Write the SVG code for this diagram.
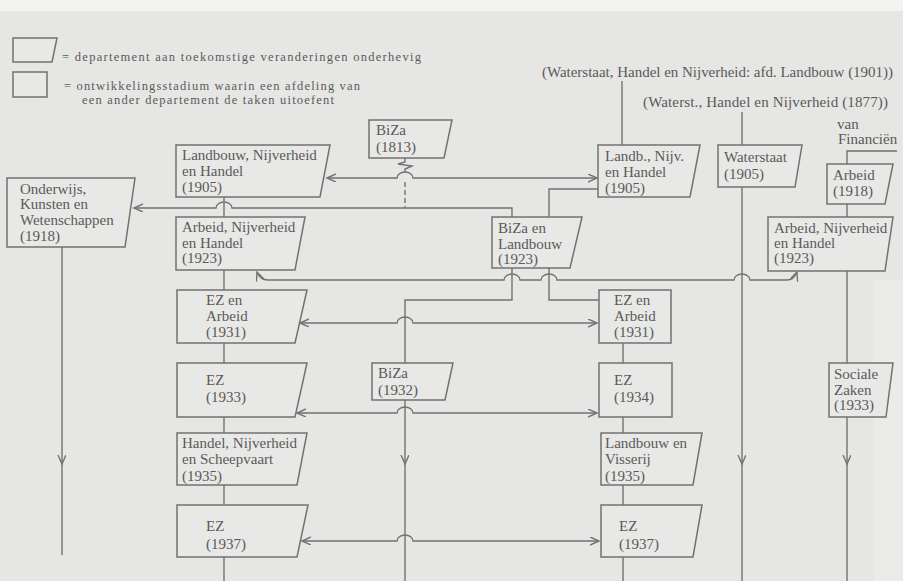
<svg xmlns="http://www.w3.org/2000/svg" width="903" height="581" viewBox="0 0 903 581">
<style>
.bg{fill:#e6e6e4}
.box{fill:#e8e8e6;stroke:#727272;stroke-width:1.5}
.ln{fill:none;stroke:#727272;stroke-width:1.4}
.dash{fill:none;stroke:#727272;stroke-width:1.4;stroke-dasharray:5,3}
text{font-family:"Liberation Serif","DejaVu Serif",serif;font-size:15px;fill:#5a5a5a}
.lg{font-size:12.5px}
</style>
<defs>
<marker id="ar" markerUnits="userSpaceOnUse" markerWidth="12" markerHeight="10" refX="9" refY="4" orient="auto-start-reverse">
<path d="M0,0 L9,4 L0,8" fill="none" stroke="#727272" stroke-width="1.4"/>
</marker>
</defs>
<rect class="bg" x="0" y="0" width="903" height="581"/>
<rect x="0" y="0" width="903" height="11" fill="#f3f3f2"/>
<rect x="874" y="280" width="29" height="301" fill="#ffffff" opacity="0.2"/>

<g id="legend">
<polygon class="box" points="13,38 57,38 52,62 13,62"/>
<text class="lg" x="62" y="61" textLength="359" lengthAdjust="spacing">= departement aan toekomstige veranderingen onderhevig</text>
<rect class="box" x="13" y="72" width="34" height="25"/>
<text class="lg" x="64" y="90" textLength="296" lengthAdjust="spacing">= ontwikkelingsstadium waarin een afdeling van</text>
<text class="lg" x="82" y="104" textLength="252" lengthAdjust="spacing">een ander departement de taken uitoefent</text>
</g>

<g id="labels">
<text x="542" y="77" textLength="351" lengthAdjust="spacing">(Waterstaat, Handel en Nijverheid: afd. Landbouw (1901))</text>
<text x="643" y="107" textLength="245" lengthAdjust="spacing">(Waterst., Handel en Nijverheid (1877))</text>
<text x="837" y="129">van</text>
<text x="838" y="144">Financiën</text>
</g>

<g id="connectors">
<path class="ln" d="M224,197 V217 M224,270 V290 M224,343 V363 M224,417 V433 M224,485 V505 M224,557 V581"/>
<path class="ln" d="M623,343 V363 M623,417 V433 M623,485 V505 M623,557 V581"/>
<path class="ln" d="M622,81 V145"/>
<path class="ln" d="M742,112 V145"/>
<path class="ln" marker-end="url(#ar)" d="M742,187 V464"/>
<path class="ln" d="M742,464 V581"/>
<path class="ln" d="M897,151 H847 V164 M847,204 V217 M847,271 V363"/>
<path class="ln" marker-end="url(#ar)" d="M847,417 V464"/>
<path class="ln" d="M847,464 V581"/>
<path class="ln" marker-end="url(#ar)" d="M62,247 V464"/>
<path class="ln" d="M62,464 V555"/>
<path class="ln" d="M405,158 V162 L398,164 L412,166 L405,169 V172"/>
<path class="dash" d="M405,182 V208"/>
<path class="ln" marker-start="url(#ar)" marker-end="url(#ar)" d="M327,178 H397 a8,6 0 0 1 16,0 H597"/>
<path class="ln" marker-start="url(#ar)" d="M134,208 H216 a8,6 0 0 1 16,0 H512 V217"/>
<path class="ln" d="M549,217 V189 H598"/>
<path class="ln" marker-start="url(#ar)" marker-end="url(#ar)" d="M257,272 Q260,280 268,280 H504 a8,6 0 0 1 16,0 H541 a8,6 0 0 1 16,0 H734 a8,6 0 0 1 16,0 H787 Q794,280 797,272"/>
<path class="ln" d="M512,268 V300 H405 V363"/>
<path class="ln" d="M549,268 V300 H599"/>
<path class="ln" marker-end="url(#ar)" d="M405,400 V464"/>
<path class="ln" d="M405,464 V581"/>
<path class="ln" marker-start="url(#ar)" marker-end="url(#ar)" d="M300,323 H397 a8,6 0 0 1 16,0 H597"/>
<path class="ln" marker-start="url(#ar)" marker-end="url(#ar)" d="M297,413 H397 a8,6 0 0 1 16,0 H597"/>
<path class="ln" marker-start="url(#ar)" marker-end="url(#ar)" d="M302,541 H397 a8,6 0 0 1 16,0 H599"/>
</g>

<g id="nodes">
<g id="onderwijs"><polygon class="box" points="7,178 135,178 125,247 7,247"/>
<text x="20" y="194">Onderwijs,</text><text x="20" y="209">Kunsten en</text><text x="20" y="225">Wetenschappen</text><text x="20" y="241">(1918)</text></g>
<g id="landbouw1905"><polygon class="box" points="176,145 330,145 320,197 176,197"/>
<text x="182" y="160">Landbouw, Nijverheid</text><text x="182" y="176">en Handel</text><text x="182" y="192">(1905)</text></g>
<g id="biza1813"><polygon class="box" points="369,120 452,120 444,158 369,158"/>
<text x="376" y="135">BiZa</text><text x="376" y="152">(1813)</text></g>
<g id="landb1905"><polygon class="box" points="598,145 700,145 690,197 598,197"/>
<text x="605" y="161">Landb., Nijv.</text><text x="605" y="177">en Handel</text><text x="605" y="193">(1905)</text></g>
<g id="waterstaat1905"><polygon class="box" points="718,145 802,145 795,187 718,187"/>
<text x="724" y="162">Waterstaat</text><text x="724" y="179">(1905)</text></g>
<g id="arbeid1918"><polygon class="box" points="827,164 893,164 885,204 827,204"/>
<text x="833" y="180">Arbeid</text><text x="833" y="196">(1918)</text></g>
<g id="arbeid1923l"><polygon class="box" points="176,217 305,217 295,270 176,270"/>
<text x="182" y="232">Arbeid, Nijverheid</text><text x="182" y="248">en Handel</text><text x="182" y="263">(1923)</text></g>
<g id="biza1923"><polygon class="box" points="492,217 582,217 570,268 492,268"/>
<text x="498" y="233">BiZa en</text><text x="498" y="249">Landbouw</text><text x="498" y="264">(1923)</text></g>
<g id="arbeid1923r"><polygon class="box" points="768,217 893,217 885,271 768,271"/>
<text x="774" y="233">Arbeid, Nijverheid</text><text x="774" y="248">en Handel</text><text x="774" y="263">(1923)</text></g>
<g id="ezarbeid1931l"><polygon class="box" points="177,290 307,290 295,343 177,343"/>
<text x="206" y="305">EZ en</text><text x="206" y="321">Arbeid</text><text x="206" y="337">(1931)</text></g>
<g id="ezarbeid1931r"><rect class="box" x="599" y="290" width="72" height="53"/>
<text x="614" y="305">EZ en</text><text x="614" y="321">Arbeid</text><text x="614" y="337">(1931)</text></g>
<g id="ez1933"><polygon class="box" points="177,363 307,363 295,417 177,417"/>
<text x="206" y="385">EZ</text><text x="206" y="402">(1933)</text></g>
<g id="biza1932"><polygon class="box" points="372,363 453,363 445,400 372,400"/>
<text x="378" y="378">BiZa</text><text x="378" y="395">(1932)</text></g>
<g id="ez1934"><rect class="box" x="599" y="363" width="73" height="54"/>
<text x="614" y="385">EZ</text><text x="614" y="402">(1934)</text></g>
<g id="sociale1933"><polygon class="box" points="829,363 893,363 886,417 829,417"/>
<text x="834" y="379">Sociale</text><text x="834" y="395">Zaken</text><text x="834" y="410">(1933)</text></g>
<g id="handel1935"><polygon class="box" points="177,433 307,433 297,485 177,485"/>
<text x="182" y="448">Handel, Nijverheid</text><text x="182" y="464">en Scheepvaart</text><text x="182" y="481">(1935)</text></g>
<g id="landbouw1935"><polygon class="box" points="601,433 702,433 693,485 601,485"/>
<text x="605" y="448">Landbouw en</text><text x="605" y="464">Visserij</text><text x="605" y="481">(1935)</text></g>
<g id="ez1937l"><polygon class="box" points="177,505 308,505 297,557 177,557"/>
<text x="206" y="531">EZ</text><text x="206" y="549">(1937)</text></g>
<g id="ez1937r"><polygon class="box" points="601,505 702,505 693,557 601,557"/>
<text x="619" y="531">EZ</text><text x="619" y="549">(1937)</text></g>
</g>
</svg>
